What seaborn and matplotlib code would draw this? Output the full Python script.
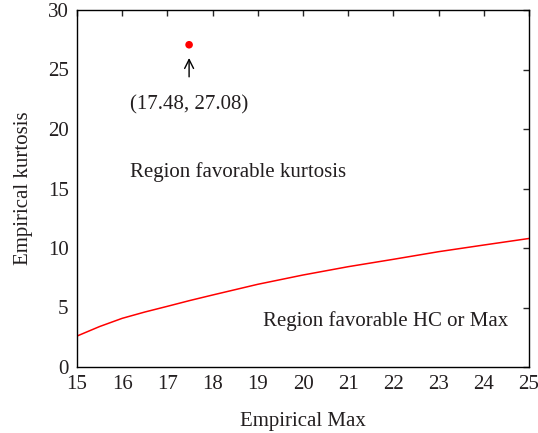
import numpy as np
import pandas as pd
import matplotlib
matplotlib.use("Agg")
import matplotlib.pyplot as plt
import seaborn as sns

# boundary curve
emp_max = [15, 15.5, 16, 16.5, 17, 17.5, 18, 19, 20, 21, 22, 23, 24, 25]
emp_kurt = [2.6, 3.4, 4.09, 4.62, 5.1, 5.59, 6.05, 6.95, 7.73, 8.43, 9.05, 9.69, 10.25, 10.8]

point_x = [17.48]
point_y = [27.08]

x_ticks = list(range(15, 26))
y_ticks = [0, 5, 10, 15, 20, 25, 30]

sns.set_style("white")
plt.rcParams['font.family'] = ['Liberation Serif', 'DejaVu Serif']
text_col = '#231f20'
fs = 15

fig = plt.figure(figsize=(5.38, 4.33), dpi=100)
ax = fig.add_axes([77 / 538, 1 - 367 / 433, 452 / 538, 357 / 433])

curve = pd.DataFrame({'max': emp_max, 'kurt': emp_kurt})
sns.lineplot(data=curve, x='max', y='kurt', color='red', linewidth=1.1, ax=ax)
sns.scatterplot(x=point_x, y=point_y, color='red', s=30, edgecolor='none', ax=ax, zorder=5)

ax.annotate('', xy=(point_x[0], 26.2), xytext=(point_x[0], 24.15),
            arrowprops=dict(arrowstyle='->', color='black', lw=1.0, mutation_scale=16))
ax.text(16.17, 22.0, '(17.48, 27.08)', fontsize=fs, color=text_col, va='center', ha='left')
ax.text(16.17, 16.4, 'Region favorable kurtosis', fontsize=fs, color=text_col, va='center', ha='left')
ax.text(19.11, 3.87, 'Region favorable HC or Max', fontsize=fs, color=text_col, va='center', ha='left')

ax.set_xlim(15, 25)
ax.set_ylim(0, 30)
ax.set_xticks(x_ticks)
ax.set_yticks(y_ticks)
ax.tick_params(direction='in', top=True, right=True, length=4, width=1,
               labelsize=fs, labelcolor=text_col, pad=6)
for s in ax.spines.values():
    s.set_color('black')
    s.set_linewidth(1)
ax.set_xlabel('Empirical Max', fontsize=fs, color=text_col, labelpad=13)
ax.set_ylabel('Empirical kurtosis', fontsize=fs, color=text_col, labelpad=11)

fig.savefig('out.png', dpi=100)
